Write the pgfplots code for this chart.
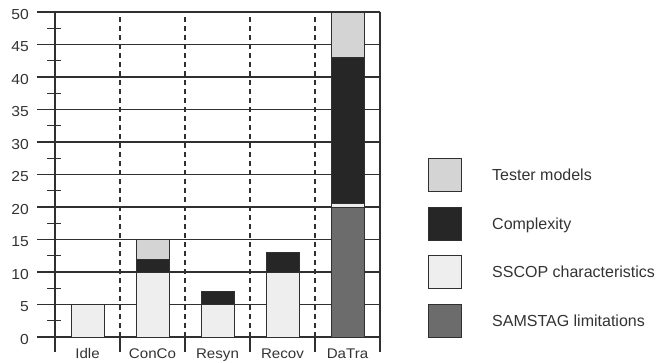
\documentclass[border=0pt]{standalone}
\usepackage{pgfplots}
\pgfplotsset{compat=1.18}
\usepackage{fontspec}
\setmainfont{Liberation Sans}
\newfontfamily\tickfont[FakeStretch=1.08]{Liberation Sans}
\definecolor{lc}{HTML}{303030}
\definecolor{txt}{HTML}{333333}
\definecolor{tester}{HTML}{D4D4D4}
\definecolor{complex}{HTML}{262626}
\definecolor{sscop}{HTML}{EEEEEE}
\definecolor{samstag}{HTML}{6C6C6C}
\begin{document}
\begin{tikzpicture}
\useasboundingbox (0,0) rectangle (661pt,362pt);
\begin{axis}[
  at={(55pt,25pt)}, anchor=south west,
  scale only axis, width=325pt, height=325pt,
  xmin=-0.5, xmax=4.5, ymin=0, ymax=50,
  axis line style={draw=none},
  clip=false,
  ybar stacked, bar width=33pt,
  xtick={0,1,2,3,4},
  xticklabels={Idle,ConCo,Resyn,Recov,DaTra},
  xtick style={draw=none},
  xticklabel style={font=\tickfont\fontsize{14}{16}\selectfont, text=txt, anchor=base, inner sep=0pt, yshift=-21pt},
  ytick={0,5,...,50},
  ytick style={draw=none},
  yticklabel style={font=\tickfont\fontsize{14.5}{16}\selectfont, text=txt, anchor=east, inner sep=0pt, xshift=-26pt, yshift=-2.5pt},
  /pgf/number format/assume math mode=true,
  ymajorgrids,
  major grid style={lc, line width=1.1pt, solid},
  every axis plot/.append style={draw=lc, line width=1pt},
]
% SAMSTAG limitations
\addplot[fill=samstag] coordinates {(0,0) (1,0) (2,0) (3,0) (4,20)};
% SSCOP characteristics
\addplot[fill=sscop] coordinates {(0,5) (1,10) (2,5) (3,10) (4,0.6)};
% Complexity
\addplot[fill=complex] coordinates {(0,0) (1,2) (2,2) (3,3) (4,22.4)};
% Tester models
\addplot[fill=tester] coordinates {(0,0) (1,3) (2,0) (3,0) (4,7)};

% left extensions of the horizontal rules
\pgfplotsinvokeforeach{0,5,...,50}{
  \draw[lc, line width=1.1pt] ([xshift=-18pt]axis cs:-0.5,#1) -- (axis cs:-0.5,#1);
}
% minor ticks
\pgfplotsinvokeforeach{2.5,7.5,...,47.5}{
  \draw[lc, line width=1.1pt] ([xshift=-8pt]axis cs:-0.5,#1) -- ([xshift=6pt]axis cs:-0.5,#1);
}
% category separators
\pgfplotsinvokeforeach{0.5,1.5,2.5,3.5}{
  \draw[lc, line width=1.1pt, dash pattern=on 5pt off 4pt] (axis cs:#1,0) -- (axis cs:#1,50);
  \draw[lc, line width=1.1pt] (axis cs:#1,0) -- ([yshift=-15pt]axis cs:#1,0);
}
\draw[lc, line width=1.1pt] (axis cs:-0.5,50) -- ([yshift=-15pt]axis cs:-0.5,0);
\draw[lc, line width=1.1pt] (axis cs:4.5,50) -- ([yshift=-15pt]axis cs:4.5,0);
\end{axis}
% legend
\foreach \y/\c/\t in {187/tester/Tester models, 138.5/complex/Complexity, 90.5/sscop/SSCOP characteristics, 41/samstag/SAMSTAG limitations}{
  \draw[lc, line width=1pt, fill=\c] (428pt,\y pt-16.5pt) rectangle (461pt,\y pt+16.5pt);
  \node[anchor=base west, inner sep=0pt, text=txt, font=\fontsize{16}{19}\selectfont] at (492pt,\y pt-5.7pt) {\t};
}
\end{tikzpicture}
\end{document}
